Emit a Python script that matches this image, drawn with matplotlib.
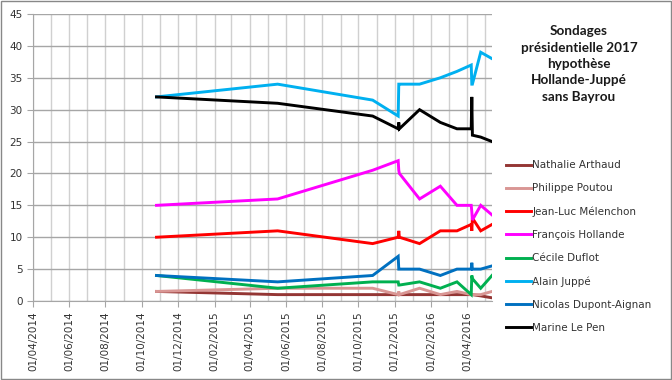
import pandas as pd
import numpy as np
import matplotlib
matplotlib.use('Agg')
import matplotlib.pyplot as plt
import matplotlib.dates as mdates
from matplotlib.patches import Rectangle

# dates des sondages
dates = pd.to_datetime([
    '2014-10-26', '2015-05-18', '2015-10-25',
    '2015-12-07', '2015-12-08', '2015-12-09',
    '2016-01-12', '2016-02-16', '2016-03-15',
    '2016-04-08', '2016-04-09', '2016-04-10',
    '2016-04-24', '2016-05-13'])

arthaud = [1.5, 1, 1, 1, 1, 1, 1, 1, 1, 1, 1, 1, 0.8, 0.5]
poutou = [1.5, 2, 2, 1, 1.5, 1, 2, 1, 1.5, 1, 1, 1, 1, 1.5]
melenchon = [10, 11, 9, 10, 11, 10, 9, 11, 11, 12, 11, 13, 11, 12]
hollande = [15, 16, 20.5, 22, 20.5, 20, 16, 18, 15, 15, 14, 12.7, 15, 13.5]
duflot = [4, 2, 3, 3, 2.5, 2.5, 3, 2, 3, 1, 4, 3.5, 2, 4]
juppe = [32, 34, 31.5, 29, 34, 34, 34, 35, 36, 37, 34, 34, 39, 38]
dupont = [4, 3, 4, 7, 5, 5, 5, 4, 5, 5, 6, 5, 5, 5.5]
lepen = [32, 31, 29, 27, 28, 27, 30, 28, 27, 27, 32, 26, 25.7, 25]

noms = ['Nathalie Arthaud', 'Philippe Poutou', 'Jean-Luc Mélenchon',
        'François Hollande', 'Cécile Duflot', 'Alain Juppé',
        'Nicolas Dupont-Aignan', 'Marine Le Pen']
series = [arthaud, poutou, melenchon, hollande, duflot, juppe, dupont, lepen]
couleurs = ['#943634', '#D99694', '#FF0000', '#FF00FF', '#00B050',
            '#00B0F0', '#0070C0', '#000000']

plt.rcParams['font.family'] = ['DejaVu Sans']

fig = plt.figure(figsize=(6.72, 3.8), dpi=100)
ax = fig.add_axes([33 / 672, 1 - 301 / 380, (492 - 33) / 672, (301 - 14) / 380])

for nom, vals, c in zip(noms, series, couleurs):
    ax.plot(dates, vals, color=c, lw=2.1, label=nom, solid_joinstyle='miter')

ax.set_ylim(0, 45)
ax.set_yticks(range(0, 46, 5))
ax.set_xlim(pd.Timestamp('2014-04-01'), dates[-1])
ax.xaxis.set_major_locator(mdates.MonthLocator(bymonth=[2, 4, 6, 8, 10, 12]))
ax.xaxis.set_minor_locator(mdates.MonthLocator())
ax.xaxis.set_major_formatter(mdates.DateFormatter('%d/%m/%Y'))
plt.setp(ax.get_xticklabels(), rotation=90)

ax.grid(axis='y', color='#a6a6a6', lw=1)
ax.grid(axis='x', which='both', color='#d0d0d0', lw=1)
ax.set_axisbelow(True)
for s in ['top', 'right']:
    ax.spines[s].set_visible(False)
for s in ['left', 'bottom']:
    ax.spines[s].set_color('#a6a6a6')
ax.tick_params(axis='both', which='major', labelsize=7.5, colors='#a6a6a6',
               labelcolor='#333333', length=4)
ax.tick_params(axis='x', which='minor', length=0)

# titre a droite
fig.text(579 / 672, 1 - 25 / 380,
         'Sondages\nprésidentielle 2017\nhypothèse\nHollande-Juppé\nsans Bayrou',
         ha='center', va='top', fontsize=9.7, fontweight='bold',
         family='Lato', linespacing=1.45, color='#1a1a1a')

leg = ax.legend(loc='upper left', bbox_to_anchor=(502 / 672, 1 - 156 / 380),
                bbox_transform=fig.transFigure, frameon=False, fontsize=7.5,
                handlelength=2.4, handletextpad=0.1, labelspacing=1.26,
                borderaxespad=0)
for t in leg.get_texts():
    t.set_color('#333333')

fig.patches.append(Rectangle((0.001, 0.002), 0.997, 0.995, transform=fig.transFigure,
                             fill=False, edgecolor='#888888', lw=1))

fig.savefig('out.png', dpi=100)
